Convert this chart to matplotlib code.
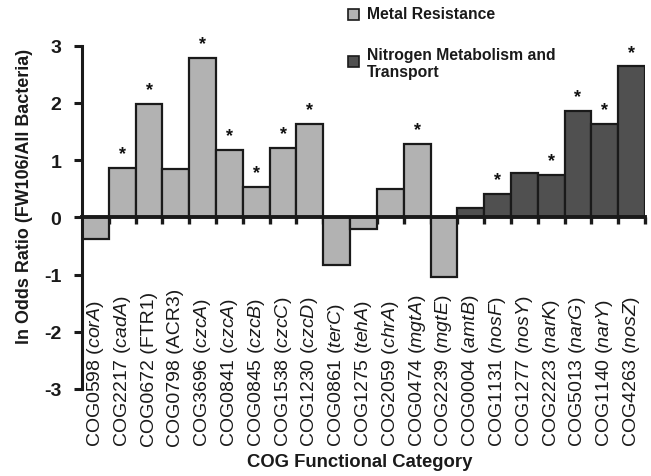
import matplotlib
matplotlib.use("Agg")
import matplotlib.pyplot as plt
from matplotlib.patches import Rectangle
import matplotlib.transforms as mtransforms

plt.rcParams["font.family"] = ["Liberation Sans", "DejaVu Sans"]
plt.rcParams["mathtext.fontset"] = "custom"
plt.rcParams["mathtext.rm"] = "Liberation Sans"
plt.rcParams["mathtext.it"] = "Liberation Sans:italic"
plt.rcParams["mathtext.bf"] = "Liberation Sans:bold"

# COG categories and their gene names
cog_ids = ["COG0598", "COG2217", "COG0672", "COG0798", "COG3696", "COG0841",
           "COG0845", "COG1538", "COG1230", "COG0861", "COG1275", "COG2059",
           "COG0474", "COG2239", "COG0004", "COG1131", "COG1277", "COG2223",
           "COG5013", "COG1140", "COG4263"]
genes = ["corA", "cadA", "FTR1", "ACR3", "czcA", "czcA", "czcB", "czcC", "czcD",
         "terC", "tehA", "chrA", "mgtA", "mgtE", "amtB", "nosF", "nosY", "narK",
         "narG", "narY", "nosZ"]
gene_italic = [True, True, False, False, True, True, True, True, True,
               True, True, True, True, True, True, True, True, True,
               True, True, True]

# ln odds ratio (FW106 / all bacteria)
log_odds = [-0.38, 0.86, 1.98, 0.84, 2.79, 1.18, 0.53, 1.22, 1.64,
            -0.83, -0.20, 0.49, 1.28, -1.04, 0.17, 0.41, 0.77, 0.74,
            1.86, 1.64, 2.64]

# functional group: 0 = metal resistance, 1 = nitrogen metabolism/transport
group = [0] * 14 + [1] * 7
significant = [False, True, True, False, True, True, True, True, True,
               False, False, False, True, False, False, True, False, True,
               True, True, True]

group_names = ["Metal Resistance", "Nitrogen Metabolism and\nTransport"]
group_colors = ["#b2b2b2", "#505050"]

fig = plt.figure(figsize=(6.51, 4.77), dpi=100)
ax = fig.add_axes([82 / 651, 1 - 390 / 477, (645 - 82) / 651, (390 - 46.7) / 477])

x = list(range(len(log_odds)))
colors = [group_colors[g] for g in group]
ax.bar(x, log_odds, width=1.0, color=colors, edgecolor="#1a1a1a",
       linewidth=1.6, zorder=2)

# significance markers
for xi, v, s in zip(x, log_odds, significant):
    if s:
        ax.annotate("*", (xi, max(v, 0)), xytext=(0, 4), textcoords="offset points",
                    ha="center", va="bottom", fontsize=13, fontweight="bold",
                    color="#111111")

ax.set_xlim(-0.5, len(log_odds) - 0.5)
ax.set_ylim(-3, 3)

# axes styling
for side in ("top", "right"):
    ax.spines[side].set_visible(False)
ax.spines["left"].set_linewidth(2.2)
ax.spines["left"].set_color("#1a1a1a")
ax.spines["bottom"].set_position(("data", 0))
ax.spines["bottom"].set_linewidth(2.8)
ax.spines["bottom"].set_color("#1a1a1a")
ax.spines["bottom"].set_zorder(3)

ax.set_yticks([-3, -2, -1, 0, 1, 2, 3])
ax.set_yticklabels(["-3", "-2", "-1", "0", "1", "2", "3"],
                   fontsize=14, fontweight="bold", color="#1a1a1a")
ax.tick_params(axis="y", direction="out", length=6, width=2.2, pad=9,
               color="#1a1a1a")

# tick marks on the zero line at bar boundaries
ax.set_xticks([i + 0.5 for i in x])
ax.set_xticklabels([])
ax.tick_params(axis="x", direction="out", length=5, width=2.4, color="#1a1a1a")

# category labels
trans = mtransforms.blended_transform_factory(ax.transData, ax.transAxes)
for xi, cid, gname, it in zip(x, cog_ids, genes, gene_italic):
    gtxt = r"$\mathit{%s}$" % gname if it else gname
    ax.text(xi, -0.166, f"{cid} ({gtxt})", transform=trans, rotation=90,
            ha="center", va="bottom", fontsize=14, color="#1a1a1a")

fig.text(360 / 651, 1 - 463 / 477, "COG Functional Category", ha="center",
         va="center", fontsize=13.3, fontweight="bold", color="#1a1a1a")
fig.text(25 / 651, 1 - 196 / 477, "ln Odds Ratio (FW106/All Bacteria)",
         rotation=90, ha="center", va="center", fontsize=12.9,
         fontweight="bold", color="#1a1a1a")

# legend
leg_y = [15, 62]
for gy, name, col in zip(leg_y, group_names, group_colors):
    fig.patches.append(Rectangle((348 / 651, 1 - (gy + 6) / 477), 11 / 651, 11 / 477,
                                 transform=fig.transFigure, facecolor=col,
                                 edgecolor="#1a1a1a", linewidth=1.2))
for gy, name in zip([15, 56], group_names):
    fig.text(367 / 651, 1 - (gy - 8) / 477, name, ha="left", va="top",
             fontsize=11.3, fontweight="bold", color="#1a1a1a", linespacing=1.15)

fig.savefig("out.png", dpi=100)
